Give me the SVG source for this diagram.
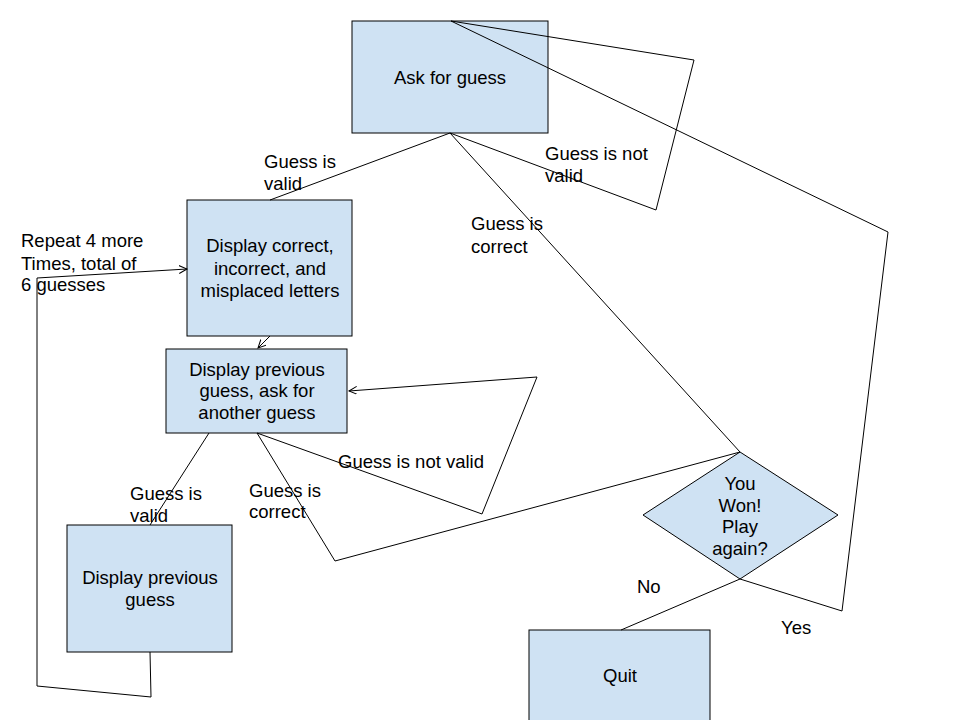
<svg xmlns="http://www.w3.org/2000/svg" width="960" height="720" viewBox="0 0 960 720">
<style>
.n{fill:#cfe2f3;stroke:#000;stroke-width:1}
.t{font-family:"Liberation Sans",Arial,sans-serif;font-size:18.5px;fill:#000;text-anchor:middle}
.l{font-family:"Liberation Sans",Arial,sans-serif;font-size:18.5px;fill:#000}
.c{fill:none;stroke:#000;stroke-width:1}
</style>
<defs>
<marker id="a" markerWidth="10" markerHeight="10" refX="8" refY="4" orient="auto" markerUnits="userSpaceOnUse">
<path d="M0,0 L8,4 L0,8" fill="none" stroke="#000" stroke-width="1"/>
</marker>
</defs>
<rect width="960" height="720" fill="#fff"/>
<g id="ask">
<rect class="n" x="352" y="21" width="196" height="112"/>
<text class="t" x="450" y="84">Ask for guess</text>
</g>
<g id="display-correct">
<rect class="n" x="187" y="200" width="165" height="136"/>
<text class="t" x="270" y="252">Display correct,</text>
<text class="t" x="270" y="275">incorrect, and</text>
<text class="t" x="270" y="297">misplaced letters</text>
</g>
<g id="display-prev-ask">
<rect class="n" x="166" y="349" width="181" height="84"/>
<text class="t" x="257" y="376">Display previous</text>
<text class="t" x="257" y="397">guess, ask for</text>
<text class="t" x="257" y="419">another guess</text>
</g>
<g id="display-prev">
<rect class="n" x="67" y="525" width="165" height="127"/>
<text class="t" x="150" y="584">Display previous</text>
<text class="t" x="150" y="606">guess</text>
</g>
<g id="won">
<polygon class="n" points="740,452 838,515 740,579 643,515"/>
<text class="t" x="740" y="490">You</text>
<text class="t" x="740" y="512">Won!</text>
<text class="t" x="740" y="533">Play</text>
<text class="t" x="740" y="555">again?</text>
</g>
<g id="quit">
<rect class="n" x="529" y="630" width="181" height="100"/>
<text class="t" x="620" y="682">Quit</text>
</g>
<g id="labels">
<text class="l" x="264" y="168">Guess is</text>
<text class="l" x="264" y="190">valid</text>
<text class="l" x="545" y="160">Guess is not</text>
<text class="l" x="545" y="182">valid</text>
<text class="l" x="471" y="230">Guess is</text>
<text class="l" x="471" y="253">correct</text>
<text class="l" x="21" y="247">Repeat 4 more</text>
<text class="l" x="21" y="270">Times, total of</text>
<text class="l" x="21" y="291">6 guesses</text>
<text class="l" x="338" y="468">Guess is not valid</text>
<text class="l" x="130" y="500">Guess is</text>
<text class="l" x="130" y="522">valid</text>
<text class="l" x="249" y="497">Guess is</text>
<text class="l" x="249" y="518">correct</text>
<text class="l" x="637" y="593">No</text>
<text class="l" x="781" y="634">Yes</text>
</g>
<g id="connectors">
<polyline class="c" points="450,133 270,200"/>
<polyline class="c" points="450,133 656,210 694,60 451,21"/>
<polyline class="c" points="450,133 740,452"/>
<polyline class="c" points="740,579 842,611 888,232 451,21"/>
<polyline class="c" points="740,579 621,630"/>
<polyline class="c" points="270,336 258,348" marker-end="url(#a)"/>
<polyline class="c" points="257,433 482,514 537,377 349,391" marker-end="url(#a)"/>
<polyline class="c" points="257,433 335,561 740,452"/>
<polyline class="c" points="209,433 150,525"/>
<polyline class="c" points="150,652 151,697 37,686 37,278 187,269" marker-end="url(#a)"/>
</g>
</svg>
